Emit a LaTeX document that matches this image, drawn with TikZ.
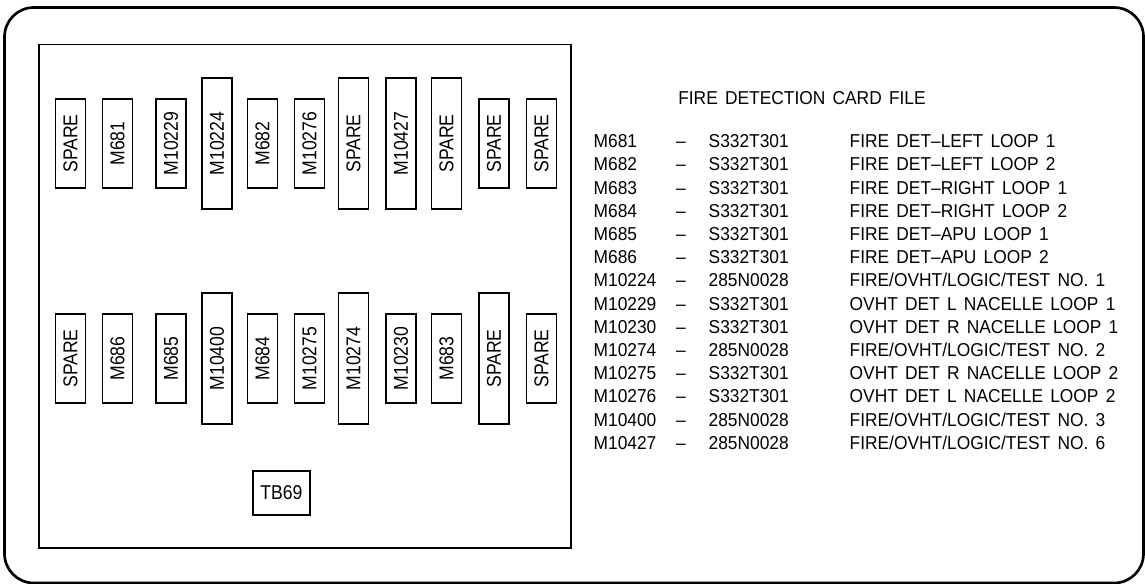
\documentclass[tikz,border=0pt]{standalone}
\usepackage{fontspec}
\setmainfont{Liberation Sans}[FakeStretch=0.88, WordSpace=1.5]
\newfontfamily\listfont{Liberation Sans}[Ligatures=TeX, FakeStretch=0.93, WordSpace=1.5]

\begin{document}
\begin{tikzpicture}[x=0.75pt, y=-0.75pt, line width=1pt,
	card/.style={draw, rotate=90, inner sep=0pt, minimum width=66.75pt, minimum height=22.5pt, font=\fontsize{15}{18}\selectfont},
	longcard/.style={card, minimum width=98.25pt},
	item/.style={anchor=west, inner sep=0pt, text height=10pt, text depth=0pt, font=\listfont\fontsize{14}{16}\selectfont},
	sep/.style={item, anchor=center}]
			
			\useasboundingbox (0,0) rectangle (1145,584);
			
			\def\ut{143.5}\def\lt{358.5}
			
			\draw[line width=2pt, rounded corners=22pt] (4.5,7.5) rectangle (1143.5,583);
			\draw[line width=1.1pt] (38.8,44.7) rectangle (571,548);
			
			\node[card]     (u1)  at ( 70.4,\ut) {SPARE};
			\node[card]     (u2)  at (117.5,\ut) {M681};
			\node[card]     (u3)  at (171.0,\ut) {M10229};
			\node[longcard] (u4)  at (217.0,\ut) {M10224};
			\node[card]     (u5)  at (262.5,\ut) {M682};
			\node[card]     (u6)  at (309.5,\ut) {M10276};
			\node[longcard] (u7)  at (353.5,\ut) {SPARE};
			\node[longcard] (u8)  at (401.0,\ut) {M10427};
			\node[longcard] (u9)  at (446.5,\ut) {SPARE};
			\node[card]     (u10) at (494.0,\ut) {SPARE};
			\node[card]     (u11) at (541.5,\ut) {SPARE};
			
			\node[card]     (l1)  at ( 70.4,\lt) {SPARE};
			\node[card]     (l2)  at (117.5,\lt) {M686};
			\node[card]     (l3)  at (171.0,\lt) {M685};
			\node[longcard] (l4)  at (217.0,\lt) {M10400};
			\node[card]     (l5)  at (262.5,\lt) {M684};
			\node[card]     (l6)  at (309.5,\lt) {M10275};
			\node[longcard] (l7)  at (353.5,\lt) {M10274};
			\node[card]     (l8)  at (401.0,\lt) {M10230};
			\node[card]     (l9)  at (446.5,\lt) {M683};
			\node[longcard] (l10) at (494.0,\lt) {SPARE};
			\node[card]     (l11) at (541.5,\lt) {SPARE};
			
			\node[draw, inner sep=0pt, minimum width=42.75pt, minimum height=33pt,
			font=\fontsize{15}{18}\selectfont] (tb69) at (281.5,493) {TB69};
			
			\node[sep] (title) at (802,97.5) {FIRE DETECTION CARD FILE};
			
			\node[item] (id1)  at (593,141.0) {M681};
			\node[sep]  (dh1)  at (681,141.0) {--};
			\node[item] (pn1)  at (708,141.0) {S332T301};
			\node[item] (ds1)  at (849,141.0) {FIRE DET--LEFT LOOP 1};
			
			\node[item] (id2)  at (593,164.2) {M682};
			\node[sep]  (dh2)  at (681,164.2) {--};
			\node[item] (pn2)  at (708,164.2) {S332T301};
			\node[item] (ds2)  at (849,164.2) {FIRE DET--LEFT LOOP 2};
			
			\node[item] (id3)  at (593,187.4) {M683};
			\node[sep]  (dh3)  at (681,187.4) {--};
			\node[item] (pn3)  at (708,187.4) {S332T301};
			\node[item] (ds3)  at (849,187.4) {FIRE DET--RIGHT LOOP 1};
			
			\node[item] (id4)  at (593,210.6) {M684};
			\node[sep]  (dh4)  at (681,210.6) {--};
			\node[item] (pn4)  at (708,210.6) {S332T301};
			\node[item] (ds4)  at (849,210.6) {FIRE DET--RIGHT LOOP 2};
			
			\node[item] (id5)  at (593,233.8) {M685};
			\node[sep]  (dh5)  at (681,233.8) {--};
			\node[item] (pn5)  at (708,233.8) {S332T301};
			\node[item] (ds5)  at (849,233.8) {FIRE DET--APU LOOP 1};
			
			\node[item] (id6)  at (593,257.0) {M686};
			\node[sep]  (dh6)  at (681,257.0) {--};
			\node[item] (pn6)  at (708,257.0) {S332T301};
			\node[item] (ds6)  at (849,257.0) {FIRE DET--APU LOOP 2};
			
			\node[item] (id7)  at (593,280.2) {M10224};
			\node[sep]  (dh7)  at (681,280.2) {--};
			\node[item] (pn7)  at (708,280.2) {285N0028};
			\node[item] (ds7)  at (849,280.2) {FIRE/OVHT/LOGIC/TEST NO. 1};
			
			\node[item] (id8)  at (593,303.4) {M10229};
			\node[sep]  (dh8)  at (681,303.4) {--};
			\node[item] (pn8)  at (708,303.4) {S332T301};
			\node[item] (ds8)  at (849,303.4) {OVHT DET L NACELLE LOOP 1};
			
			\node[item] (id9)  at (593,326.6) {M10230};
			\node[sep]  (dh9)  at (681,326.6) {--};
			\node[item] (pn9)  at (708,326.6) {S332T301};
			\node[item] (ds9)  at (849,326.6) {OVHT DET R NACELLE LOOP 1};
			
			\node[item] (id10) at (593,349.8) {M10274};
			\node[sep]  (dh10) at (681,349.8) {--};
			\node[item] (pn10) at (708,349.8) {285N0028};
			\node[item] (ds10) at (849,349.8) {FIRE/OVHT/LOGIC/TEST NO. 2};
			
			\node[item] (id11) at (593,373.0) {M10275};
			\node[sep]  (dh11) at (681,373.0) {--};
			\node[item] (pn11) at (708,373.0) {S332T301};
			\node[item] (ds11) at (849,373.0) {OVHT DET R NACELLE LOOP 2};
			
			\node[item] (id12) at (593,396.2) {M10276};
			\node[sep]  (dh12) at (681,396.2) {--};
			\node[item] (pn12) at (708,396.2) {S332T301};
			\node[item] (ds12) at (849,396.2) {OVHT DET L NACELLE LOOP 2};
			
			\node[item] (id13) at (593,419.4) {M10400};
			\node[sep]  (dh13) at (681,419.4) {--};
			\node[item] (pn13) at (708,419.4) {285N0028};
			\node[item] (ds13) at (849,419.4) {FIRE/OVHT/LOGIC/TEST NO. 3};
			
			\node[item] (id14) at (593,442.6) {M10427};
			\node[sep]  (dh14) at (681,442.6) {--};
			\node[item] (pn14) at (708,442.6) {285N0028};
			\node[item] (ds14) at (849,442.6) {FIRE/OVHT/LOGIC/TEST NO. 6};
			
	\end{tikzpicture}
\end{document}
